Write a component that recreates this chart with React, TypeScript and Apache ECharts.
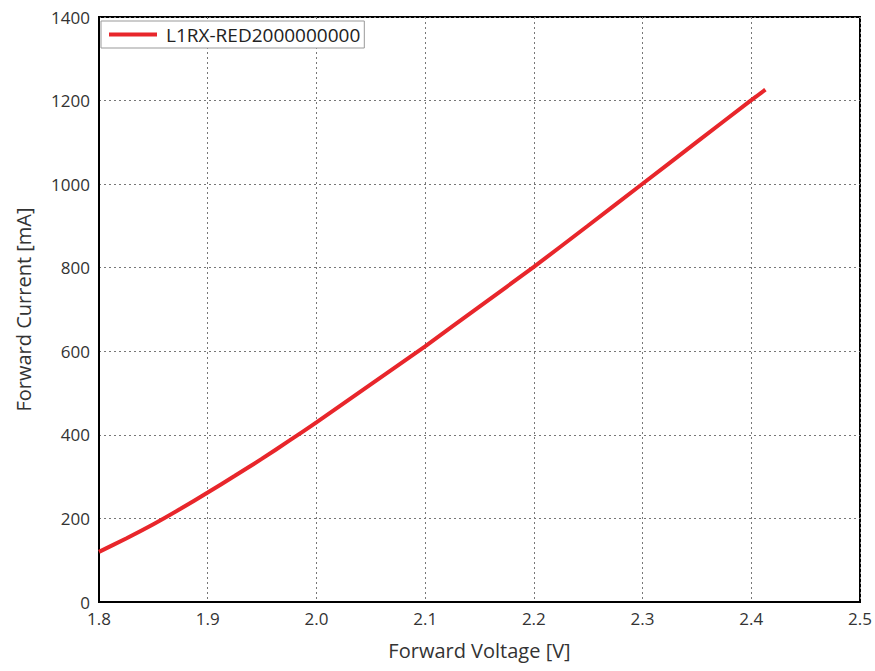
import React, { useEffect, useRef } from "react";
import * as echarts from "echarts";

const voltage = [1.8, 1.825, 1.85, 1.875, 1.9, 1.925, 1.95, 1.975, 2.0, 2.05, 2.1, 2.15, 2.2, 2.25, 2.3, 2.35, 2.4, 2.413];
const current = [120, 152, 186, 223, 262, 302, 343, 386, 430, 521, 612, 707, 802, 901, 1001, 1101, 1201, 1226];
const seriesName = "L1RX-RED2000000000";

export default function App() {
  const ref = useRef<HTMLDivElement>(null);
  useEffect(() => {
    if (!ref.current) return;
    const chart = echarts.init(ref.current, undefined, { renderer: "svg" });
    const font = "'Open Sans', 'Noto Sans', sans-serif";
    chart.setOption({
      animation: false,
      backgroundColor: "#fff",
      textStyle: { fontFamily: font },
      grid: {
        left: 99,
        top: 17,
        right: 15,
        bottom: 69,
        show: true,
        borderColor: "#000",
        borderWidth: 2,
        containLabel: false,
      },
      legend: {
        show: true,
        left: 101,
        top: 21,
        orient: "vertical",
        backgroundColor: "#fff",
        borderColor: "#999",
        borderWidth: 1,
        borderRadius: 0,
        padding: [4, 4, 4, 8],
        itemWidth: 48,
        itemHeight: 4,
        itemGap: 0,
        icon: "rect",
        textStyle: { fontSize: 19, color: "#222", fontFamily: font, padding: [0, 0, 0, 4] },
        data: [{ name: seriesName, icon: "rect" }],
      },
      xAxis: {
        type: "value",
        min: 1.8,
        max: 2.5,
        interval: 0.1,
        name: "Forward Voltage [V]",
        nameLocation: "middle",
        nameGap: 38,
        nameTextStyle: { fontSize: 20, color: "#333", fontFamily: font },
        axisLine: { show: true, lineStyle: { color: "#000", width: 2 } },
        axisTick: { show: false },
        axisLabel: {
          fontSize: 17,
          color: "#333",
          margin: 8,
          formatter: (v: number) => v.toFixed(1),
        },
        splitLine: { show: true, lineStyle: { type: [2, 3], color: "#777", width: 1 } },
      },
      yAxis: {
        type: "value",
        min: 0,
        max: 1400,
        interval: 200,
        name: "Forward Current [mA]",
        nameLocation: "middle",
        nameGap: 66,
        nameTextStyle: { fontSize: 20, color: "#333", fontFamily: font },
        axisLine: { show: true, lineStyle: { color: "#000", width: 2 } },
        axisTick: { show: false },
        axisLabel: { fontSize: 17, color: "#333", margin: 9, formatter: (v: number) => String(v) },
        splitLine: { show: true, lineStyle: { type: [2, 3], color: "#777", width: 1 } },
      },
      series: [
        {
          name: seriesName,
          type: "line",
          data: voltage.map((v, i) => [v, current[i]]),
          smooth: 0.2,
          showSymbol: false,
          symbol: "none",
          color: "#e8262b",
          lineStyle: { color: "#e8262b", width: 4 },
        },
      ],
    });
    return () => chart.dispose();
  }, []);
  return <div ref={ref} style={{ width: 875, height: 671, position: "absolute", left: 0, top: 0 }} />;
}
